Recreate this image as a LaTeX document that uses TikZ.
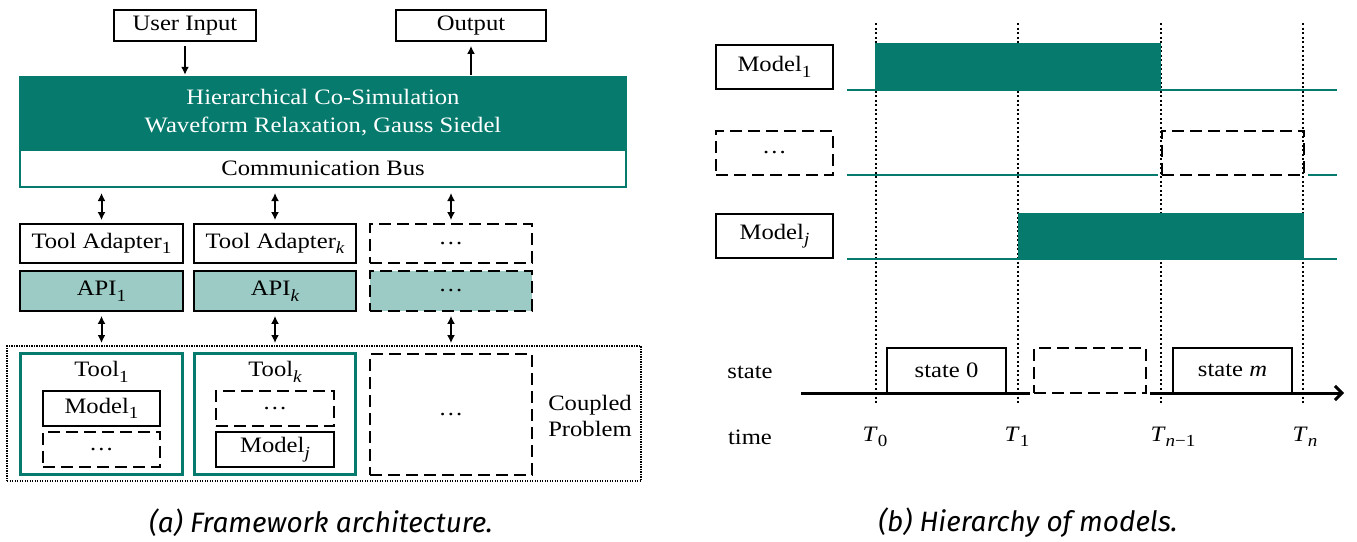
\documentclass[tikz,border=0pt]{standalone}
\usepackage{fontspec}
\setmainfont[FakeStretch=1.12]{Liberation Serif}
\newfontfamily\capfont{Fira Sans}
\usetikzlibrary{arrows.meta}
\definecolor{teal1}{HTML}{067B6D}
\definecolor{teal2}{HTML}{9BCBC4}
\newcommand\sbx[1]{\raisebox{-0.25em}{\fontsize{17}{17}\selectfont #1}}
\begin{document}
\begin{tikzpicture}[x=1pt,y=-1pt,
  font=\fontsize{22}{26}\selectfont,
  box/.style={draw=black, line width=1.8pt, inner sep=0pt, fill=white},
  dbox/.style={draw=black, line width=1.8pt, dash pattern=on 12pt off 6pt, inner sep=0pt},
  tbox/.style={draw=teal1, line width=3pt, inner sep=0pt},
  dar/.style={{Latex[length=8pt,width=8pt]}-{Latex[length=8pt,width=8pt]}, line width=2pt},
  sar/.style={-{Latex[length=8pt,width=8pt]}, line width=2pt},
  tl/.style={draw=teal1, line width=2pt},
  vdot/.style={line width=2pt, dash pattern=on 2pt off 2.5pt},
  lbl/.style={inner sep=0pt},
  captxt/.style={font=\capfont\itshape\fontsize{28}{32}\selectfont}]
\useasboundingbox (0,0) rectangle (1357,541);
\fill[white] (0,0) rectangle (1357,541);

% ---------------- (a) ----------------
\node[box, minimum width=142, minimum height=31] (ui) at (185,25.5) {User Input};
\node[box, minimum width=150, minimum height=31] (out) at (471,25.5) {Output};
\node[fill=teal1, minimum width=608, minimum height=74, inner sep=0pt, text=white,
      align=center, font=\fontsize{22}{28}\selectfont] (sim) at (323,113)
      {Hierarchical Co-Simulation\\Waveform Relaxation, Gauss Siedel};
\node[draw=teal1, line width=2pt, fill=white, minimum width=606, minimum height=37,
      inner sep=0pt] (bus) at (323,168.5) {Communication Bus};
\draw[sar, shorten <=4pt, shorten >=1pt] (ui.south) -- (ui.south |- sim.north);
\draw[sar, shorten <=1pt, shorten >=4pt] (out.south |- sim.north) -- (out.south);

\node[box, minimum width=163, minimum height=39] (ta1) at (101.5,243.5) {Tool Adapter\sbx{1}};
\node[box, minimum width=162, minimum height=39] (tak) at (275,243.5) {Tool Adapter\sbx{\itshape k}};
\node[dbox, minimum width=162, minimum height=39] (ta3) at (451,243.5) {…};
\node[box, fill=teal2, minimum width=163, minimum height=40] (api1) at (101.5,291) {API\sbx{1}};
\node[box, fill=teal2, minimum width=162, minimum height=40] (apik) at (275,291) {API\sbx{\itshape k}};
\node[dbox, fill=teal2, minimum width=162, minimum height=40] (api3) at (451,291) {…};

\foreach \n in {ta1,tak,ta3}
  \draw[dar, shorten <=5pt, shorten >=3pt] (\n.north |- bus.south) -- (\n.north);

\node[draw=black, line width=1.2pt, dash pattern=on 1.2pt off 1.3pt, minimum width=634,
      minimum height=135, inner sep=0pt] (cpb) at (324,413.5) {};
\node[tbox, minimum width=162, minimum height=121] (t1) at (101.5,414) {};
\node[tbox, minimum width=161, minimum height=121] (tk) at (275,414) {};
\node[dbox, minimum width=162, minimum height=121] (t3) at (451,414.5) {…};

\draw[dar, shorten <=4pt, shorten >=9pt] (api1.south) -- (t1.north);
\draw[dar, shorten <=4pt, shorten >=9pt] (apik.south) -- (tk.north);
\draw[dar, shorten <=4pt, shorten >=10pt] (api3.south) -- (t3.north);

\node[lbl] (t1l) at (101.5,372) {Tool\sbx{1}};
\node[lbl] (tkl) at (275,372) {Tool\sbx{\itshape k}};
\node[box, minimum width=117, minimum height=35] (m1) at (101.5,408.5) {Model\sbx{1}};
\node[dbox, minimum width=117, minimum height=35] (d1) at (101.5,449.5) {…};
\node[dbox, minimum width=118, minimum height=35] (dk) at (275,408.5) {…};
\node[box, minimum width=118, minimum height=35] (mj) at (275,449.5) {Model\sbx{\itshape j}};
\node[lbl, align=center, font=\fontsize{22}{26}\selectfont] (cp) at (590,416) {Coupled\\Problem};

% ---------------- (b) ----------------
\coordinate (X0) at (876,23);
\coordinate (X1) at (1018,23);
\coordinate (X2) at (1161,23);
\coordinate (X3) at (1303,23);
\foreach \c in {X0,X1,X2,X3}
  \draw[vdot] (\c) -- ++(0,382);

\draw[tl] (847,89.5) -- (1337,89.5);
\draw[tl] (847,175) -- (1158,175);
\draw[tl] (1308,175) -- (1337,175);
\draw[tl] (847,259) -- (1337,259);
\node[fill=teal1, minimum width=286, minimum height=47.5, inner sep=0pt, anchor=north west] (b1) at (875,43) {};
\node[fill=teal1, minimum width=286, minimum height=47, inner sep=0pt, anchor=north west] (bj) at (1018,213) {};
\node[dbox, minimum width=142, minimum height=44, anchor=north west] (bd) at (1161,130) {};

\node[box, minimum width=117, minimum height=44] (rm1) at (774.5,67) {Model\sbx{1}};
\node[dbox, minimum width=117, minimum height=44] (rd) at (774.5,153) {…};
\node[box, minimum width=117, minimum height=44] (rmj) at (774.5,236) {Model\sbx{\itshape j}};

\coordinate (ax0) at (801,393);
\coordinate (ax1) at (1030,393);
\coordinate (ax2) at (1150,393);
\coordinate (ax3) at (1344,393);
\draw[line width=3pt] (ax0) -- (ax1);
\draw[line width=3pt, -{Straight Barb[length=7pt,width=14pt]}] (ax2) -- (ax3);

\node[lbl, minimum width=119, minimum height=45] (s0) at (946.5,370.5) {state 0};
\draw[line width=2pt] (s0.south west) |- (s0.north east) -- (s0.south east);
\node[dbox, minimum width=112, minimum height=45] (sd) at (1090,370.5) {};
\node[lbl, minimum width=119, minimum height=45] (sm) at (1232.5,370.5) {state \textit{m}};
\draw[line width=2pt] (sm.south west) |- (sm.north east) -- (sm.south east);

\node[lbl] (st) at (750,372) {state};
\node[lbl] (tm) at (750,437) {time};
\node[lbl] (T0) at (875,437) {\textit{T}\sbx{0}};
\node[lbl] (T1) at (1017,437) {\textit{T}\sbx{1}};
\node[lbl] (Tn1) at (1173,437) {\textit{T}\sbx{\itshape n\normalfont −1}};
\node[lbl] (Tn) at (1305,437) {\textit{T}\sbx{\itshape n}};

% captions
\node[lbl, captxt] (ca) at (321,523) {(a) Framework architecture.};
\node[lbl, captxt] (cb) at (1028,523) {(b) Hierarchy of models.};
\end{tikzpicture}
\end{document}
